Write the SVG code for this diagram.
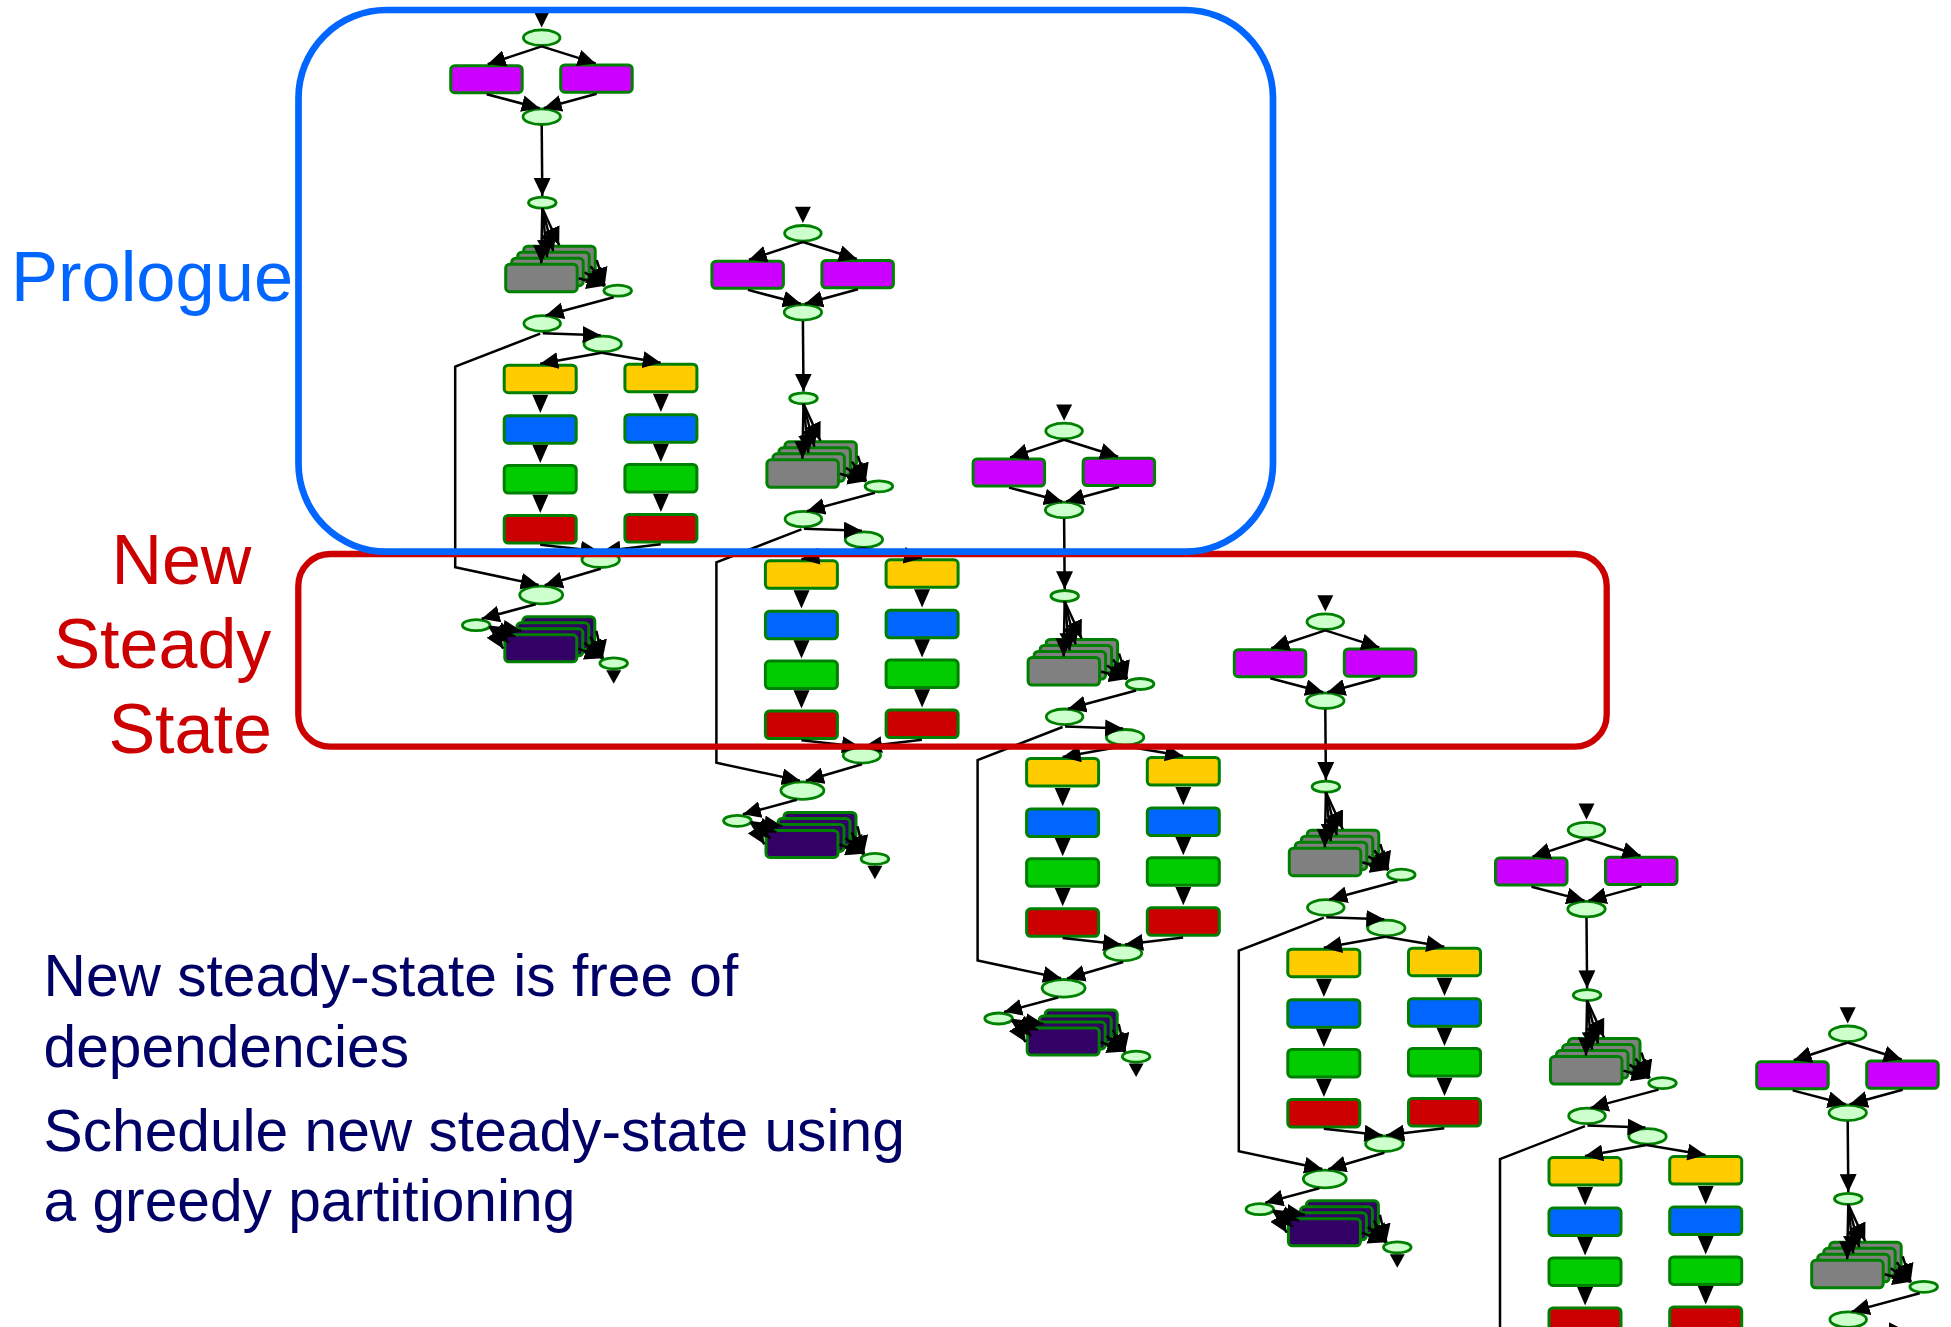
<svg xmlns="http://www.w3.org/2000/svg" width="1951" height="1327" viewBox="0 0 1951 1327">
<style>
.el{fill:#CCFFCC;stroke:#008000;stroke-width:2.8}
.r{stroke:#008000;stroke-width:3}
.pu{fill:#CC00FF}.gy{fill:#808080}.ye{fill:#FFCC00}.bl{fill:#0066FF}.gr{fill:#00CC00}.rd{fill:#CC0000}.dp{fill:#330066}
.e{fill:none;stroke:#000;stroke-width:2.5;marker-end:url(#ah)}
.tri{fill:#000}
.t{font-family:"Liberation Sans",Arial,Helvetica,sans-serif}
</style>
<defs>
<marker id="ah" markerUnits="userSpaceOnUse" markerWidth="18" markerHeight="17" refX="18" refY="8.5" orient="auto" viewBox="0 0 18 17"><path d="M0,0L18,8.5L0,17z" fill="#000"/></marker>
</defs>
<rect width="1951" height="1327" fill="#fff"/>
<g id="nodes">
<g id="p1" transform="translate(541.7,37.7)">
<g id="p1-in"><ellipse class="el" cx="0" cy="0" rx="18.3" ry="7.8"/></g>
<g id="p1-splitA"><rect class="r pu" x="-91" y="28" width="71.5" height="27" rx="4"/></g>
<g id="p1-splitB"><rect class="r pu" x="19" y="27.2" width="71.5" height="27.3" rx="4"/></g>
<g id="p1-join"><ellipse class="el" cx="0" cy="79" rx="18.7" ry="7.8"/></g>
<g id="p1-scatter"><ellipse class="el" cx="0.6" cy="165" rx="13.8" ry="5.5"/></g>
<g id="p1-work"><rect class="r gy" x="-18" y="208.5" width="71.5" height="27.5" rx="4"/><rect class="r gy" x="-24" y="214.5" width="71.5" height="27.5" rx="4"/><rect class="r gy" x="-30" y="220.5" width="71.5" height="27.5" rx="4"/><rect class="r gy" x="-36" y="226.5" width="71.5" height="27.5" rx="4"/></g>
<g id="p1-gather"><ellipse class="el" cx="76" cy="253" rx="13.8" ry="5.5"/></g>
<g id="p1-sync"><ellipse class="el" cx="0.5" cy="285.8" rx="18.3" ry="7.8"/></g>
<g id="p1-split"><ellipse class="el" cx="61" cy="306.3" rx="18.7" ry="7.8"/></g>
<g id="p1-yA"><rect class="r ye" x="-37.5" y="327.5" width="72" height="27.5" rx="4"/></g>
<g id="p1-bA"><rect class="r bl" x="-37.5" y="378" width="72" height="27.5" rx="4"/></g>
<g id="p1-gA"><rect class="r gr" x="-37.5" y="427.8" width="72" height="27.5" rx="4"/></g>
<g id="p1-rA"><rect class="r rd" x="-37.5" y="477.8" width="72" height="27.5" rx="4"/></g>
<g id="p1-yB"><rect class="r ye" x="83.2" y="326.5" width="72" height="27.5" rx="4"/></g>
<g id="p1-bB"><rect class="r bl" x="83.2" y="377" width="72" height="27.5" rx="4"/></g>
<g id="p1-gB"><rect class="r gr" x="83.2" y="426.8" width="72" height="27.5" rx="4"/></g>
<g id="p1-rB"><rect class="r rd" x="83.2" y="476.8" width="72" height="27.5" rx="4"/></g>
<g id="p1-merge"><ellipse class="el" cx="59" cy="522" rx="18.7" ry="7.8"/></g>
<g id="p1-big"><ellipse class="el" cx="-0.5" cy="557.3" rx="21.5" ry="8.8"/></g>
<g id="p1-dist"><ellipse class="el" cx="-65.5" cy="587.5" rx="13.8" ry="5.5"/></g>
<g id="p1-out"><rect class="r dp" x="-18.9" y="579.1" width="72" height="27" rx="4"/><rect class="r dp" x="-24.9" y="585.1" width="72" height="27" rx="4"/><rect class="r dp" x="-30.9" y="591.1" width="72" height="27" rx="4"/><rect class="r dp" x="-36.9" y="597.1" width="72" height="27" rx="4"/></g>
<g id="p1-coll"><ellipse class="el" cx="72" cy="625.6" rx="13.8" ry="5.5"/></g>
</g>
<g id="p2" transform="translate(802.9,233.3)">
<g id="p2-in"><ellipse class="el" cx="0" cy="0" rx="18.3" ry="7.8"/></g>
<g id="p2-splitA"><rect class="r pu" x="-91" y="28" width="71.5" height="27" rx="4"/></g>
<g id="p2-splitB"><rect class="r pu" x="19" y="27.2" width="71.5" height="27.3" rx="4"/></g>
<g id="p2-join"><ellipse class="el" cx="0" cy="79" rx="18.7" ry="7.8"/></g>
<g id="p2-scatter"><ellipse class="el" cx="0.6" cy="165" rx="13.8" ry="5.5"/></g>
<g id="p2-work"><rect class="r gy" x="-18" y="208.5" width="71.5" height="27.5" rx="4"/><rect class="r gy" x="-24" y="214.5" width="71.5" height="27.5" rx="4"/><rect class="r gy" x="-30" y="220.5" width="71.5" height="27.5" rx="4"/><rect class="r gy" x="-36" y="226.5" width="71.5" height="27.5" rx="4"/></g>
<g id="p2-gather"><ellipse class="el" cx="76" cy="253" rx="13.8" ry="5.5"/></g>
<g id="p2-sync"><ellipse class="el" cx="0.5" cy="285.8" rx="18.3" ry="7.8"/></g>
<g id="p2-split"><ellipse class="el" cx="61" cy="306.3" rx="18.7" ry="7.8"/></g>
<g id="p2-yA"><rect class="r ye" x="-37.5" y="327.5" width="72" height="27.5" rx="4"/></g>
<g id="p2-bA"><rect class="r bl" x="-37.5" y="378" width="72" height="27.5" rx="4"/></g>
<g id="p2-gA"><rect class="r gr" x="-37.5" y="427.8" width="72" height="27.5" rx="4"/></g>
<g id="p2-rA"><rect class="r rd" x="-37.5" y="477.8" width="72" height="27.5" rx="4"/></g>
<g id="p2-yB"><rect class="r ye" x="83.2" y="326.5" width="72" height="27.5" rx="4"/></g>
<g id="p2-bB"><rect class="r bl" x="83.2" y="377" width="72" height="27.5" rx="4"/></g>
<g id="p2-gB"><rect class="r gr" x="83.2" y="426.8" width="72" height="27.5" rx="4"/></g>
<g id="p2-rB"><rect class="r rd" x="83.2" y="476.8" width="72" height="27.5" rx="4"/></g>
<g id="p2-merge"><ellipse class="el" cx="59" cy="522" rx="18.7" ry="7.8"/></g>
<g id="p2-big"><ellipse class="el" cx="-0.5" cy="557.3" rx="21.5" ry="8.8"/></g>
<g id="p2-dist"><ellipse class="el" cx="-65.5" cy="587.5" rx="13.8" ry="5.5"/></g>
<g id="p2-out"><rect class="r dp" x="-18.9" y="579.1" width="72" height="27" rx="4"/><rect class="r dp" x="-24.9" y="585.1" width="72" height="27" rx="4"/><rect class="r dp" x="-30.9" y="591.1" width="72" height="27" rx="4"/><rect class="r dp" x="-36.9" y="597.1" width="72" height="27" rx="4"/></g>
<g id="p2-coll"><ellipse class="el" cx="72" cy="625.6" rx="13.8" ry="5.5"/></g>
</g>
<g id="p3" transform="translate(1064.1,431)">
<g id="p3-in"><ellipse class="el" cx="0" cy="0" rx="18.3" ry="7.8"/></g>
<g id="p3-splitA"><rect class="r pu" x="-91" y="28" width="71.5" height="27" rx="4"/></g>
<g id="p3-splitB"><rect class="r pu" x="19" y="27.2" width="71.5" height="27.3" rx="4"/></g>
<g id="p3-join"><ellipse class="el" cx="0" cy="79" rx="18.7" ry="7.8"/></g>
<g id="p3-scatter"><ellipse class="el" cx="0.6" cy="165" rx="13.8" ry="5.5"/></g>
<g id="p3-work"><rect class="r gy" x="-18" y="208.5" width="71.5" height="27.5" rx="4"/><rect class="r gy" x="-24" y="214.5" width="71.5" height="27.5" rx="4"/><rect class="r gy" x="-30" y="220.5" width="71.5" height="27.5" rx="4"/><rect class="r gy" x="-36" y="226.5" width="71.5" height="27.5" rx="4"/></g>
<g id="p3-gather"><ellipse class="el" cx="76" cy="253" rx="13.8" ry="5.5"/></g>
<g id="p3-sync"><ellipse class="el" cx="0.5" cy="285.8" rx="18.3" ry="7.8"/></g>
<g id="p3-split"><ellipse class="el" cx="61" cy="306.3" rx="18.7" ry="7.8"/></g>
<g id="p3-yA"><rect class="r ye" x="-37.5" y="327.5" width="72" height="27.5" rx="4"/></g>
<g id="p3-bA"><rect class="r bl" x="-37.5" y="378" width="72" height="27.5" rx="4"/></g>
<g id="p3-gA"><rect class="r gr" x="-37.5" y="427.8" width="72" height="27.5" rx="4"/></g>
<g id="p3-rA"><rect class="r rd" x="-37.5" y="477.8" width="72" height="27.5" rx="4"/></g>
<g id="p3-yB"><rect class="r ye" x="83.2" y="326.5" width="72" height="27.5" rx="4"/></g>
<g id="p3-bB"><rect class="r bl" x="83.2" y="377" width="72" height="27.5" rx="4"/></g>
<g id="p3-gB"><rect class="r gr" x="83.2" y="426.8" width="72" height="27.5" rx="4"/></g>
<g id="p3-rB"><rect class="r rd" x="83.2" y="476.8" width="72" height="27.5" rx="4"/></g>
<g id="p3-merge"><ellipse class="el" cx="59" cy="522" rx="18.7" ry="7.8"/></g>
<g id="p3-big"><ellipse class="el" cx="-0.5" cy="557.3" rx="21.5" ry="8.8"/></g>
<g id="p3-dist"><ellipse class="el" cx="-65.5" cy="587.5" rx="13.8" ry="5.5"/></g>
<g id="p3-out"><rect class="r dp" x="-18.9" y="579.1" width="72" height="27" rx="4"/><rect class="r dp" x="-24.9" y="585.1" width="72" height="27" rx="4"/><rect class="r dp" x="-30.9" y="591.1" width="72" height="27" rx="4"/><rect class="r dp" x="-36.9" y="597.1" width="72" height="27" rx="4"/></g>
<g id="p3-coll"><ellipse class="el" cx="72" cy="625.6" rx="13.8" ry="5.5"/></g>
</g>
<g id="p4" transform="translate(1325.3,621.7)">
<g id="p4-in"><ellipse class="el" cx="0" cy="0" rx="18.3" ry="7.8"/></g>
<g id="p4-splitA"><rect class="r pu" x="-91" y="28" width="71.5" height="27" rx="4"/></g>
<g id="p4-splitB"><rect class="r pu" x="19" y="27.2" width="71.5" height="27.3" rx="4"/></g>
<g id="p4-join"><ellipse class="el" cx="0" cy="79" rx="18.7" ry="7.8"/></g>
<g id="p4-scatter"><ellipse class="el" cx="0.6" cy="165" rx="13.8" ry="5.5"/></g>
<g id="p4-work"><rect class="r gy" x="-18" y="208.5" width="71.5" height="27.5" rx="4"/><rect class="r gy" x="-24" y="214.5" width="71.5" height="27.5" rx="4"/><rect class="r gy" x="-30" y="220.5" width="71.5" height="27.5" rx="4"/><rect class="r gy" x="-36" y="226.5" width="71.5" height="27.5" rx="4"/></g>
<g id="p4-gather"><ellipse class="el" cx="76" cy="253" rx="13.8" ry="5.5"/></g>
<g id="p4-sync"><ellipse class="el" cx="0.5" cy="285.8" rx="18.3" ry="7.8"/></g>
<g id="p4-split"><ellipse class="el" cx="61" cy="306.3" rx="18.7" ry="7.8"/></g>
<g id="p4-yA"><rect class="r ye" x="-37.5" y="327.5" width="72" height="27.5" rx="4"/></g>
<g id="p4-bA"><rect class="r bl" x="-37.5" y="378" width="72" height="27.5" rx="4"/></g>
<g id="p4-gA"><rect class="r gr" x="-37.5" y="427.8" width="72" height="27.5" rx="4"/></g>
<g id="p4-rA"><rect class="r rd" x="-37.5" y="477.8" width="72" height="27.5" rx="4"/></g>
<g id="p4-yB"><rect class="r ye" x="83.2" y="326.5" width="72" height="27.5" rx="4"/></g>
<g id="p4-bB"><rect class="r bl" x="83.2" y="377" width="72" height="27.5" rx="4"/></g>
<g id="p4-gB"><rect class="r gr" x="83.2" y="426.8" width="72" height="27.5" rx="4"/></g>
<g id="p4-rB"><rect class="r rd" x="83.2" y="476.8" width="72" height="27.5" rx="4"/></g>
<g id="p4-merge"><ellipse class="el" cx="59" cy="522" rx="18.7" ry="7.8"/></g>
<g id="p4-big"><ellipse class="el" cx="-0.5" cy="557.3" rx="21.5" ry="8.8"/></g>
<g id="p4-dist"><ellipse class="el" cx="-65.5" cy="587.5" rx="13.8" ry="5.5"/></g>
<g id="p4-out"><rect class="r dp" x="-18.9" y="579.1" width="72" height="27" rx="4"/><rect class="r dp" x="-24.9" y="585.1" width="72" height="27" rx="4"/><rect class="r dp" x="-30.9" y="591.1" width="72" height="27" rx="4"/><rect class="r dp" x="-36.9" y="597.1" width="72" height="27" rx="4"/></g>
<g id="p4-coll"><ellipse class="el" cx="72" cy="625.6" rx="13.8" ry="5.5"/></g>
</g>
<g id="p5" transform="translate(1586.5,830.1)">
<g id="p5-in"><ellipse class="el" cx="0" cy="0" rx="18.3" ry="7.8"/></g>
<g id="p5-splitA"><rect class="r pu" x="-91" y="28" width="71.5" height="27" rx="4"/></g>
<g id="p5-splitB"><rect class="r pu" x="19" y="27.2" width="71.5" height="27.3" rx="4"/></g>
<g id="p5-join"><ellipse class="el" cx="0" cy="79" rx="18.7" ry="7.8"/></g>
<g id="p5-scatter"><ellipse class="el" cx="0.6" cy="165" rx="13.8" ry="5.5"/></g>
<g id="p5-work"><rect class="r gy" x="-18" y="208.5" width="71.5" height="27.5" rx="4"/><rect class="r gy" x="-24" y="214.5" width="71.5" height="27.5" rx="4"/><rect class="r gy" x="-30" y="220.5" width="71.5" height="27.5" rx="4"/><rect class="r gy" x="-36" y="226.5" width="71.5" height="27.5" rx="4"/></g>
<g id="p5-gather"><ellipse class="el" cx="76" cy="253" rx="13.8" ry="5.5"/></g>
<g id="p5-sync"><ellipse class="el" cx="0.5" cy="285.8" rx="18.3" ry="7.8"/></g>
<g id="p5-split"><ellipse class="el" cx="61" cy="306.3" rx="18.7" ry="7.8"/></g>
<g id="p5-yA"><rect class="r ye" x="-37.5" y="327.5" width="72" height="27.5" rx="4"/></g>
<g id="p5-bA"><rect class="r bl" x="-37.5" y="378" width="72" height="27.5" rx="4"/></g>
<g id="p5-gA"><rect class="r gr" x="-37.5" y="427.8" width="72" height="27.5" rx="4"/></g>
<g id="p5-rA"><rect class="r rd" x="-37.5" y="477.8" width="72" height="27.5" rx="4"/></g>
<g id="p5-yB"><rect class="r ye" x="83.2" y="326.5" width="72" height="27.5" rx="4"/></g>
<g id="p5-bB"><rect class="r bl" x="83.2" y="377" width="72" height="27.5" rx="4"/></g>
<g id="p5-gB"><rect class="r gr" x="83.2" y="426.8" width="72" height="27.5" rx="4"/></g>
<g id="p5-rB"><rect class="r rd" x="83.2" y="476.8" width="72" height="27.5" rx="4"/></g>
</g>
<g id="p6" transform="translate(1847.7,1033.8)">
<g id="p6-in"><ellipse class="el" cx="0" cy="0" rx="18.3" ry="7.8"/></g>
<g id="p6-splitA"><rect class="r pu" x="-91" y="28" width="71.5" height="27" rx="4"/></g>
<g id="p6-splitB"><rect class="r pu" x="19" y="27.2" width="71.5" height="27.3" rx="4"/></g>
<g id="p6-join"><ellipse class="el" cx="0" cy="79" rx="18.7" ry="7.8"/></g>
<g id="p6-scatter"><ellipse class="el" cx="0.6" cy="165" rx="13.8" ry="5.5"/></g>
<g id="p6-work"><rect class="r gy" x="-18" y="208.5" width="71.5" height="27.5" rx="4"/><rect class="r gy" x="-24" y="214.5" width="71.5" height="27.5" rx="4"/><rect class="r gy" x="-30" y="220.5" width="71.5" height="27.5" rx="4"/><rect class="r gy" x="-36" y="226.5" width="71.5" height="27.5" rx="4"/></g>
<g id="p6-gather"><ellipse class="el" cx="76" cy="253" rx="13.8" ry="5.5"/></g>
<g id="p6-sync"><ellipse class="el" cx="0.5" cy="285.8" rx="18.3" ry="7.8"/></g>
</g>
</g>
<g id="connectors">
<g id="c1" transform="translate(541.7,37.7)">
<path class="tri" d="M-8,-26.5H8L0,-10.3z"/>
<path class="e" d="M0,8.7L-54,26.5"/><path class="e" d="M0,8.7L54,25.7"/>
<path class="e" d="M-55,56.6L-2,70.5"/><path class="e" d="M55,56L2,70.5"/>
<path class="e" d="M0,87.7L0.6,158.3"/>
<path class="e" d="M0.6,170.5L-0.5,225.5"/><path class="e" d="M0.6,170.5L5.5,219.5"/><path class="e" d="M0.6,170.5L11.5,213.5"/><path class="e" d="M0.6,170.5L17.5,207.5"/>
<path class="e" d="M37,240.5L63,248"/><path class="e" d="M43,234.5L63,248"/><path class="e" d="M49,228.5L63,248"/><path class="e" d="M55,222.5L63,248"/>
<path class="e" d="M72,259.5L4,277.8"/>
<path class="e" d="M1,295.5L59,297.5"/>
<path class="e" d="M-1.5,296L-86.5,329V529.5L-3,547.3"/>
<path class="e" d="M60,315L-1.5,326"/><path class="e" d="M60,315L119,325"/>
<path class="tri" d="M-9.4,357H6.6L-1.4,375.3zM-9.4,407H6.6L-1.4,425.3zM-9.4,457H6.6L-1.4,475.3zM111.2,356H127.2L119.2,374.3zM111.2,406H127.2L119.2,424.3zM111.2,456H127.2L119.2,474.3z"/>
<path class="e" d="M-1.5,507L57,513.5"/><path class="e" d="M119,506.5L61,513.5"/>
<path class="e" d="M59,531L3,547.5"/>
<path class="e" d="M-6,566.5L-60,581"/>
<path class="e" d="M-52,589L-38.5,611"/><path class="e" d="M-52,589L-32.5,605"/><path class="e" d="M-52,589L-26.5,599"/><path class="e" d="M-52,589L-20.5,593"/>
<path class="e" d="M36.6,611L61,620.5"/><path class="e" d="M42.6,605L61,620.5"/><path class="e" d="M48.6,599L61,620.5"/><path class="e" d="M54.6,593L61,620.5"/>
<path class="tri" d="M64.5,632.5H79.5L72,646z"/>
</g>
<g id="c2" transform="translate(802.9,233.3)">
<path class="tri" d="M-8,-26.5H8L0,-10.3z"/>
<path class="e" d="M0,8.7L-54,26.5"/><path class="e" d="M0,8.7L54,25.7"/>
<path class="e" d="M-55,56.6L-2,70.5"/><path class="e" d="M55,56L2,70.5"/>
<path class="e" d="M0,87.7L0.6,158.3"/>
<path class="e" d="M0.6,170.5L-0.5,225.5"/><path class="e" d="M0.6,170.5L5.5,219.5"/><path class="e" d="M0.6,170.5L11.5,213.5"/><path class="e" d="M0.6,170.5L17.5,207.5"/>
<path class="e" d="M37,240.5L63,248"/><path class="e" d="M43,234.5L63,248"/><path class="e" d="M49,228.5L63,248"/><path class="e" d="M55,222.5L63,248"/>
<path class="e" d="M72,259.5L4,277.8"/>
<path class="e" d="M1,295.5L59,297.5"/>
<path class="e" d="M-1.5,296L-86.5,329V529.5L-3,547.3"/>
<path class="e" d="M60,315L-1.5,326"/><path class="e" d="M60,315L119,325"/>
<path class="tri" d="M-9.4,357H6.6L-1.4,375.3zM-9.4,407H6.6L-1.4,425.3zM-9.4,457H6.6L-1.4,475.3zM111.2,356H127.2L119.2,374.3zM111.2,406H127.2L119.2,424.3zM111.2,456H127.2L119.2,474.3z"/>
<path class="e" d="M-1.5,507L57,513.5"/><path class="e" d="M119,506.5L61,513.5"/>
<path class="e" d="M59,531L3,547.5"/>
<path class="e" d="M-6,566.5L-60,581"/>
<path class="e" d="M-52,589L-38.5,611"/><path class="e" d="M-52,589L-32.5,605"/><path class="e" d="M-52,589L-26.5,599"/><path class="e" d="M-52,589L-20.5,593"/>
<path class="e" d="M36.6,611L61,620.5"/><path class="e" d="M42.6,605L61,620.5"/><path class="e" d="M48.6,599L61,620.5"/><path class="e" d="M54.6,593L61,620.5"/>
<path class="tri" d="M64.5,632.5H79.5L72,646z"/>
</g>
<g id="c3" transform="translate(1064.1,431)">
<path class="tri" d="M-8,-26.5H8L0,-10.3z"/>
<path class="e" d="M0,8.7L-54,26.5"/><path class="e" d="M0,8.7L54,25.7"/>
<path class="e" d="M-55,56.6L-2,70.5"/><path class="e" d="M55,56L2,70.5"/>
<path class="e" d="M0,87.7L0.6,158.3"/>
<path class="e" d="M0.6,170.5L-0.5,225.5"/><path class="e" d="M0.6,170.5L5.5,219.5"/><path class="e" d="M0.6,170.5L11.5,213.5"/><path class="e" d="M0.6,170.5L17.5,207.5"/>
<path class="e" d="M37,240.5L63,248"/><path class="e" d="M43,234.5L63,248"/><path class="e" d="M49,228.5L63,248"/><path class="e" d="M55,222.5L63,248"/>
<path class="e" d="M72,259.5L4,277.8"/>
<path class="e" d="M1,295.5L59,297.5"/>
<path class="e" d="M-1.5,296L-86.5,329V529.5L-3,547.3"/>
<path class="e" d="M60,315L-1.5,326"/><path class="e" d="M60,315L119,325"/>
<path class="tri" d="M-9.4,357H6.6L-1.4,375.3zM-9.4,407H6.6L-1.4,425.3zM-9.4,457H6.6L-1.4,475.3zM111.2,356H127.2L119.2,374.3zM111.2,406H127.2L119.2,424.3zM111.2,456H127.2L119.2,474.3z"/>
<path class="e" d="M-1.5,507L57,513.5"/><path class="e" d="M119,506.5L61,513.5"/>
<path class="e" d="M59,531L3,547.5"/>
<path class="e" d="M-6,566.5L-60,581"/>
<path class="e" d="M-52,589L-38.5,611"/><path class="e" d="M-52,589L-32.5,605"/><path class="e" d="M-52,589L-26.5,599"/><path class="e" d="M-52,589L-20.5,593"/>
<path class="e" d="M36.6,611L61,620.5"/><path class="e" d="M42.6,605L61,620.5"/><path class="e" d="M48.6,599L61,620.5"/><path class="e" d="M54.6,593L61,620.5"/>
<path class="tri" d="M64.5,632.5H79.5L72,646z"/>
</g>
<g id="c4" transform="translate(1325.3,621.7)">
<path class="tri" d="M-8,-26.5H8L0,-10.3z"/>
<path class="e" d="M0,8.7L-54,26.5"/><path class="e" d="M0,8.7L54,25.7"/>
<path class="e" d="M-55,56.6L-2,70.5"/><path class="e" d="M55,56L2,70.5"/>
<path class="e" d="M0,87.7L0.6,158.3"/>
<path class="e" d="M0.6,170.5L-0.5,225.5"/><path class="e" d="M0.6,170.5L5.5,219.5"/><path class="e" d="M0.6,170.5L11.5,213.5"/><path class="e" d="M0.6,170.5L17.5,207.5"/>
<path class="e" d="M37,240.5L63,248"/><path class="e" d="M43,234.5L63,248"/><path class="e" d="M49,228.5L63,248"/><path class="e" d="M55,222.5L63,248"/>
<path class="e" d="M72,259.5L4,277.8"/>
<path class="e" d="M1,295.5L59,297.5"/>
<path class="e" d="M-1.5,296L-86.5,329V529.5L-3,547.3"/>
<path class="e" d="M60,315L-1.5,326"/><path class="e" d="M60,315L119,325"/>
<path class="tri" d="M-9.4,357H6.6L-1.4,375.3zM-9.4,407H6.6L-1.4,425.3zM-9.4,457H6.6L-1.4,475.3zM111.2,356H127.2L119.2,374.3zM111.2,406H127.2L119.2,424.3zM111.2,456H127.2L119.2,474.3z"/>
<path class="e" d="M-1.5,507L57,513.5"/><path class="e" d="M119,506.5L61,513.5"/>
<path class="e" d="M59,531L3,547.5"/>
<path class="e" d="M-6,566.5L-60,581"/>
<path class="e" d="M-52,589L-38.5,611"/><path class="e" d="M-52,589L-32.5,605"/><path class="e" d="M-52,589L-26.5,599"/><path class="e" d="M-52,589L-20.5,593"/>
<path class="e" d="M36.6,611L61,620.5"/><path class="e" d="M42.6,605L61,620.5"/><path class="e" d="M48.6,599L61,620.5"/><path class="e" d="M54.6,593L61,620.5"/>
<path class="tri" d="M64.5,632.5H79.5L72,646z"/>
</g>
<g id="c5" transform="translate(1586.5,830.1)">
<path class="tri" d="M-8,-26.5H8L0,-10.3z"/>
<path class="e" d="M0,8.7L-54,26.5"/><path class="e" d="M0,8.7L54,25.7"/>
<path class="e" d="M-55,56.6L-2,70.5"/><path class="e" d="M55,56L2,70.5"/>
<path class="e" d="M0,87.7L0.6,158.3"/>
<path class="e" d="M0.6,170.5L-0.5,225.5"/><path class="e" d="M0.6,170.5L5.5,219.5"/><path class="e" d="M0.6,170.5L11.5,213.5"/><path class="e" d="M0.6,170.5L17.5,207.5"/>
<path class="e" d="M37,240.5L63,248"/><path class="e" d="M43,234.5L63,248"/><path class="e" d="M49,228.5L63,248"/><path class="e" d="M55,222.5L63,248"/>
<path class="e" d="M72,259.5L4,277.8"/>
<path class="e" d="M1,295.5L59,297.5"/>
<path class="e" d="M-1.5,296L-86.5,329V529.5L-3,547.3"/>
<path class="e" d="M60,315L-1.5,326"/><path class="e" d="M60,315L119,325"/>
<path class="tri" d="M-9.4,357H6.6L-1.4,375.3zM-9.4,407H6.6L-1.4,425.3zM-9.4,457H6.6L-1.4,475.3zM111.2,356H127.2L119.2,374.3zM111.2,406H127.2L119.2,424.3zM111.2,456H127.2L119.2,474.3z"/>
</g>
<g id="c6" transform="translate(1847.7,1033.8)">
<path class="tri" d="M-8,-26.5H8L0,-10.3z"/>
<path class="e" d="M0,8.7L-54,26.5"/><path class="e" d="M0,8.7L54,25.7"/>
<path class="e" d="M-55,56.6L-2,70.5"/><path class="e" d="M55,56L2,70.5"/>
<path class="e" d="M0,87.7L0.6,158.3"/>
<path class="e" d="M0.6,170.5L-0.5,225.5"/><path class="e" d="M0.6,170.5L5.5,219.5"/><path class="e" d="M0.6,170.5L11.5,213.5"/><path class="e" d="M0.6,170.5L17.5,207.5"/>
<path class="e" d="M37,240.5L63,248"/><path class="e" d="M43,234.5L63,248"/><path class="e" d="M49,228.5L63,248"/><path class="e" d="M55,222.5L63,248"/>
<path class="e" d="M72,259.5L4,277.8"/>
<path class="e" d="M1,295.5L59,297.5"/>
<path class="e" d="M-1.5,296L-86.5,329V529.5"/>
</g>
</g>
<g id="regions">
<rect id="steady-box" x="298.3" y="554" width="1308.4" height="192.7" rx="32" fill="none" stroke="#CC0000" stroke-width="6.3"/>
<rect id="prologue-box" x="298.5" y="10" width="974.5" height="541.7" rx="88" fill="none" stroke="#0066FF" stroke-width="6.7"/>
</g>
<g id="labels" class="t">
<text x="11" y="301" font-size="70.5" fill="#0066FF">Prologue</text>
<text x="111.4" y="584" font-size="70" fill="#CC0000">New</text>
<text x="53.4" y="668.3" font-size="70" fill="#CC0000">Steady</text>
<text x="108.4" y="752.7" font-size="70" fill="#CC0000">State</text>
<text x="43.5" y="996" font-size="58.7" fill="#000066">New steady-state is free of</text>
<text x="43.5" y="1066.5" font-size="58.7" fill="#000066">dependencies</text>
<text x="43.5" y="1151" font-size="58.7" fill="#000066">Schedule new steady-state using</text>
<text x="43.5" y="1220.5" font-size="58.7" fill="#000066">a greedy partitioning</text>
</g>
</svg>
